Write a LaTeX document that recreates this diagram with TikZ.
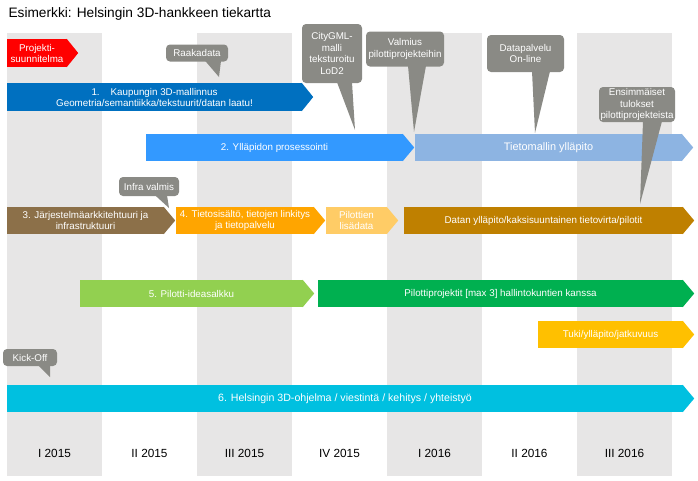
\documentclass[tikz,border=0pt]{standalone}
\usepackage{fontspec}
\setmainfont{Liberation Sans}
\usetikzlibrary{positioning, calc}
\definecolor{colgray}{HTML}{E7E6E6}
\definecolor{calloutgray}{HTML}{8A8A85}
\definecolor{planred}{HTML}{FF0000}
\definecolor{modelblue}{HTML}{0070C0}
\definecolor{procblue}{HTML}{3399FF}
\definecolor{maintblue}{HTML}{8DB4E2}
\definecolor{archbrown}{HTML}{8C7049}
\definecolor{dataorange}{HTML}{FFA500}
\definecolor{extralight}{HTML}{FFCC66}
\definecolor{flowgold}{HTML}{BF8000}
\definecolor{ideagreen}{HTML}{92D050}
\definecolor{pilotgreen}{HTML}{00B050}
\definecolor{supportgold}{HTML}{FFC000}
\definecolor{progcyan}{HTML}{00C0E0}

\begin{document}
\begin{tikzpicture}[x=1pt, y=-1pt,
            bar/.style={rectangle, inner sep=0pt, minimum height=27, text=white,
                        align=center, font=\fontsize{9.8}{11}\selectfont},
            callout/.style={rectangle, rounded corners=4pt, fill=calloutgray, inner sep=0pt,
                        text=white, align=center, font=\fontsize{9.8}{11.5}\selectfont},
            pointer/.style={fill=calloutgray},
            qlbl/.style={font=\fontsize{11.8}{13}\selectfont},
            title/.style={font=\fontsize{13.7}{15}\selectfont, anchor=west},
        ]
            \useasboundingbox (0,0) rectangle (698,480);

            % Quarter columns and their labels
            \foreach \i in {0,2,4,6}
                \fill[colgray] (7+95*\i,33) rectangle ++(95,443);
            \foreach \q [count=\i] in {I 2015, II 2015, III 2015, IV 2015, I 2016, II 2016, III 2016}
                \node[qlbl] (q\i) at (54.5+95*\i-95,453) {\q};

            \node[title] (title) at (5,14) {Esimerkki: Helsingin 3D-hankkeen tiekartta};

            % Bars: shaft as a node, tip added after
            \node[bar, fill=planred, minimum width=60, minimum height=28] (plan) at (37,53) {Projekti-\\suunnitelma};
            \node[bar, fill=modelblue, minimum width=295, minimum height=28] (b1) at (154.5,97)
                {1.\hspace{11pt}Kaupungin 3D-mallinnus\\Geometria/semantiikka/tekstuurit/datan laatu!};
            \node[bar, fill=procblue, minimum width=257] (b2) at (274.5,147.5) {2. Ylläpidon prosessointi};
            \node[bar, fill=maintblue, minimum width=267, font=\fontsize{10.9}{12}\selectfont] (maint) at (548.5,147.5)
                {Tietomallin ylläpito};
            \node[bar, fill=archbrown, minimum width=157] (b3) at (85.5,220.5)
                {3. Järjestelmäarkkitehtuuri ja\\infrastruktuuri};
            \node[bar, fill=dataorange, minimum width=138] (b4) at (245,220.5)
                {4. Tietosisältö, tietojen linkitys\\ja tietopalvelu};
            \node[bar, fill=extralight, minimum width=61] (extra) at (356.5,220.5) {Pilottien\\lisädata};
            \node[bar, fill=flowgold, minimum width=279] (flow) at (543.5,220.5)
                {Datan ylläpito/kaksisuuntainen tietovirta/pilotit};
            \node[bar, fill=ideagreen, minimum width=223] (b5) at (191.5,293.5) {5. Pilotti-ideasalkku};
            \node[bar, fill=pilotgreen, minimum width=365] (pilot) at (500.5,293.5)
                {Pilottiprojektit [max 3] hallintokuntien kanssa};
            \node[bar, fill=supportgold, minimum width=145] (support) at (610.5,334.5) {Tuki/ylläpito/jatkuvuus};
            \node[bar, fill=progcyan, minimum width=676, font=\fontsize{10.6}{12}\selectfont] (b6) at (345,398.5)
                {6. Helsingin 3D-ohjelma / viestintä / kehitys / yhteistyö};

            \foreach \n/\c in {plan/planred, b1/modelblue, b2/procblue, maint/maintblue, b3/archbrown,
                               b4/dataorange, extra/extralight, flow/flowgold, b5/ideagreen,
                               pilot/pilotgreen, support/supportgold, b6/progcyan}
                \fill[\c] ($(\n.north east)+(-0.5,0)$) -- ($(\n.east)+(11,0)$) -- ($(\n.south east)+(-0.5,0)$) -- cycle;

            % Milestone callouts
            \node[callout, minimum width=62, minimum height=17] (raak) at (197,53) {Raakadata};
            \node[callout, minimum width=60, minimum height=59] (city) at (332,53.5)
                {CityGML-\\malli\\teksturoitu\\LoD2};
            \node[callout, minimum width=78, minimum height=35] (valm) at (405,49)
                {Valmius\\pilottiprojekteihin};
            \node[callout, minimum width=77, minimum height=37] (data) at (525.5,53.5)
                {Datapalvelu\\On-line};
            \node[callout, minimum width=76, minimum height=35] (ens) at (637,104.5)
                {Ensimmäiset\\tulokset\\pilottiprojekteista};
            \node[callout, minimum width=60, minimum height=19] (infra) at (149,186.5) {Infra valmis};
            \node[callout, minimum width=54, minimum height=17] (kick) at (30,357.5) {Kick-Off};

            \coordinate (raak-tip)  at (219,77);
            \coordinate (city-tip)  at (355,130);
            \coordinate (valm-tip)  at (414,132);
            \coordinate (data-tip)  at (535,133);
            \coordinate (ens-tip)   at (640,204);
            \coordinate (infra-tip) at (169,208);
            \coordinate (kick-tip)  at (50,377);

            \foreach \c/\a/\b in {raak/8/24, city/5/20, valm/3/21, data/6.5/24.5,
                                  ens/6/25, infra/6/18, kick/8/20}
                \fill[pointer] ($(\c.south)+(\a,-1)$) -- (\c-tip) -- ($(\c.south)+(\b,-1)$) -- cycle;
        \end{tikzpicture}
\end{document}
